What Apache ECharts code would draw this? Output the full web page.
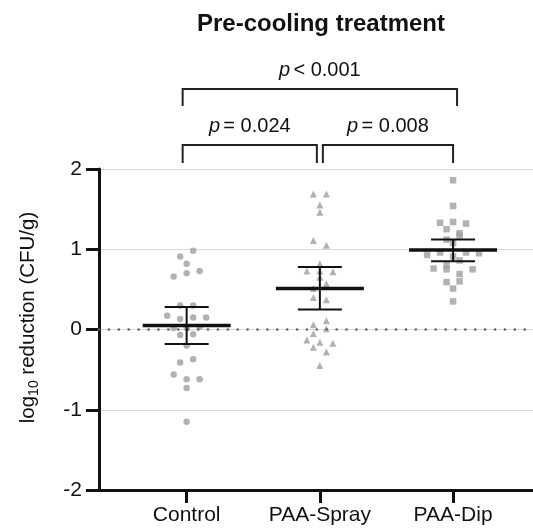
<!DOCTYPE html>
<html>
<head>
<meta charset="utf-8">
<script src="https://cdn.jsdelivr.net/npm/echarts@6/dist/echarts.min.js"></script>
<style>
  html, body { margin: 0; padding: 0; background: #fff; }
  #chart { width: 533px; height: 528px; }
</style>
</head>
<body>
<div id="chart"></div>
<script>
const categories = ['Control', 'PAA-Spray', 'PAA-Dip'];

// individual log reductions, read top-to-bottom, left-to-right in each row
const controlValues = [0.91, 0.98, 0.82, 0.66, 0.70, 0.73, 0.30, 0.30,
    0.17, 0.13, 0.15, 0.15, 0.02, 0.02, 0.03, -0.07, -0.06, -0.20,
    -0.41, -0.37, -0.56, -0.62, -0.62, -0.73, -1.15];
const sprayValues = [1.69, 1.69, 1.55, 1.46, 1.11, 1.05, 0.82, 0.73, 0.73, 0.72,
    0.65, 0.51, 0.57, 0.40, 0.37, 0.06, 0.11, -0.05, 0.01,
    -0.13, -0.16, -0.17, -0.22, -0.28, -0.45];
const dipValues = [1.86, 1.54, 1.33, 1.34, 1.32, 1.25, 1.20, 1.12, 1.17, 1.08,
    0.93, 0.96, 0.91, 0.96, 0.95, 0.80, 0.86, 0.76, 0.75, 0.69, 0.75,
    0.59, 0.60, 0.51, 0.35];

// mean with 95% CI
const means = [0.05, 0.51, 0.99];
const ciLow = [-0.18, 0.25, 0.85];
const ciHigh = [0.28, 0.78, 1.12];

const yTicks = [-2, -1, 0, 1, 2];
const pLabels = ['< 0.001', '= 0.024', '= 0.008'];

const FONT = 'Liberation Sans, Arial, sans-serif';
const DOT = '#9f9f9f';
const INK = '#111';

// x axis: 1 unit per group, spread of points in axis units
const STEP = 0.0975;
const BIN = 0.075;

function swarm(values, groupIdx) {
    const order = values.map((v, i) => i).sort((a, b) => values[b] - values[a] || a - b);
    const out = [];
    let k = 0;
    while (k < order.length) {
        const start = values[order[k]];
        const bin = [];
        while (k < order.length && start - values[order[k]] <= BIN + 1e-9) {
            bin.push(order[k]);
            k++;
        }
        bin.sort((a, b) => a - b);
        const n = bin.length;
        bin.forEach((idx, j) => {
            out.push([groupIdx + (j - (n - 1) / 2) * STEP, values[idx]]);
        });
    }
    return out;
}

const chart = echarts.init(document.getElementById('chart'));

const option = {
    animation: false,
    backgroundColor: '#fff',
    grid: {left: 99, right: 0, top: 169, bottom: 38},
    xAxis: {
        type: 'value',
        min: -0.658,
        max: 2.6,
        axisLine: {onZero: false, lineStyle: {color: INK, width: 3}},
        axisTick: {customValues: [0, 1, 2], length: 13, lineStyle: {color: INK, width: 3}},
        axisLabel: {
            customValues: [0, 1, 2],
            margin: 15,
            fontFamily: FONT,
            fontSize: 21,
            color: INK,
            formatter: v => categories[Math.round(v)]
        },
        splitLine: {show: false}
    },
    yAxis: {
        type: 'value',
        min: yTicks[0],
        max: yTicks[yTicks.length - 1],
        interval: 1,
        axisLine: {show: true, onZero: false, lineStyle: {color: INK, width: 3}},
        axisTick: {show: true, length: 13, lineStyle: {color: INK, width: 3}},
        axisLabel: {margin: 17, fontFamily: FONT, fontSize: 21, color: INK},
        splitLine: {show: true, lineStyle: {color: '#dadada', width: 1}},
        name: '{n|log}{sub|10}{n| reduction (CFU/g)}',
        nameLocation: 'middle',
        nameGap: 58,
        nameTextStyle: {
            padding: [0, 0, 0, 24],
            rich: {
                n: {fontFamily: FONT, fontSize: 20.5, color: INK, lineHeight: 26, verticalAlign: 'middle'},
                sub: {fontFamily: FONT, fontSize: 14, color: INK, lineHeight: 26, verticalAlign: 'bottom'}
            }
        }
    },
    series: [
        {
            type: 'scatter',
            symbol: 'circle',
            symbolSize: 6.5,
            itemStyle: {color: DOT},
            data: swarm(controlValues, 0),
            z: 3,
            markLine: {
                silent: true,
                symbol: 'none',
                label: {show: false},
                lineStyle: {color: '#666', width: 2.6, type: [0.1, 9.8], cap: 'round'},
                data: [{yAxis: 0}]
            }
        },
        {
            type: 'scatter',
            symbol: 'triangle',
            symbolSize: 7,
            itemStyle: {color: DOT},
            data: swarm(sprayValues, 1),
            z: 3
        },
        {
            type: 'scatter',
            symbol: 'rect',
            symbolSize: 6.5,
            itemStyle: {color: DOT},
            data: swarm(dipValues, 2),
            z: 3
        },
        {
            type: 'custom',
            z: 5,
            data: means.map((m, i) => [i, m, ciLow[i], ciHigh[i]]),
            renderItem: function (params, api) {
                const x = api.value(0);
                const c = api.coord([x, api.value(1)]);
                const lo = api.coord([x, api.value(2)]);
                const hi = api.coord([x, api.value(3)]);
                const thin = {stroke: INK, lineWidth: 2};
                return {
                    type: 'group',
                    children: [
                        {type: 'line', shape: {x1: c[0], y1: hi[1], x2: c[0], y2: lo[1]}, style: thin},
                        {type: 'line', shape: {x1: c[0] - 22, y1: hi[1], x2: c[0] + 22, y2: hi[1]}, style: thin},
                        {type: 'line', shape: {x1: c[0] - 22, y1: lo[1], x2: c[0] + 22, y2: lo[1]}, style: thin},
                        {type: 'line', shape: {x1: c[0] - 44, y1: c[1], x2: c[0] + 44, y2: c[1]},
                            style: {stroke: INK, lineWidth: 3.5}}
                    ]
                };
            }
        }
    ]
};

chart.setOption(option);

// significance brackets above the plot
const cx = categories.map((c, i) => chart.convertToPixel({gridIndex: 0}, [i, 0])[0]);

function bracket(x1, x2, yTop, yBot, label) {
    const line = {stroke: '#222', lineWidth: 2, fill: null};
    return [
        {
            type: 'polyline',
            shape: {points: [[x1, yBot], [x1, yTop], [x2, yTop], [x2, yBot]]},
            style: line
        },
        {
            type: 'text',
            x: (x1 + x2) / 2,
            y: yTop - 19,
            style: {
                text: '{i|p} {t|' + label + '}',
                align: 'center',
                verticalAlign: 'middle',
                rich: {
                    i: {fontFamily: FONT, fontSize: 20, fontStyle: 'italic', fill: INK},
                    t: {fontFamily: FONT, fontSize: 20, fill: INK}
                }
            }
        }
    ];
}

chart.setOption({
    graphic: [
        {
            type: 'text',
            x: 321,
            y: 24,
            style: {
                text: 'Pre-cooling treatment',
                align: 'center',
                verticalAlign: 'middle',
                font: 'bold 24px ' + FONT,
                fill: INK
            }
        },
        ...bracket(cx[0] - 4, cx[2] + 4, 89, 106, pLabels[0]),
        ...bracket(cx[0] - 4, cx[1] - 3, 145, 163, pLabels[1]),
        ...bracket(cx[1] + 3, cx[2], 145, 163, pLabels[2])
    ]
});
</script>
</body>
</html>
